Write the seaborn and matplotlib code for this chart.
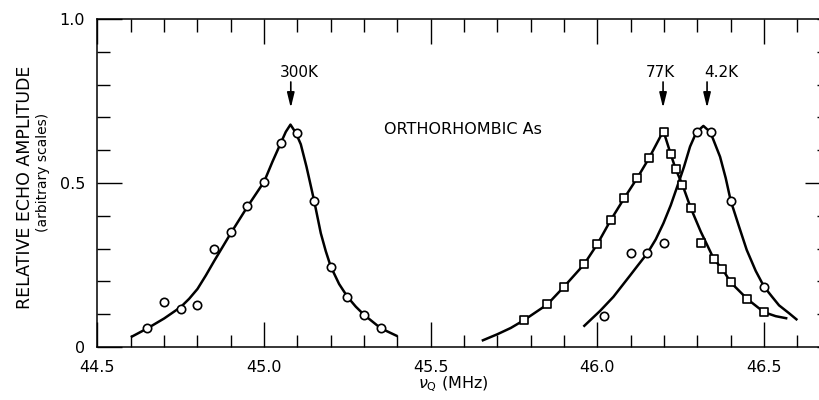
import matplotlib
matplotlib.use("Agg")
import matplotlib.pyplot as plt
import pandas as pd
import seaborn as sns
from matplotlib.ticker import MultipleLocator, FixedLocator, FixedFormatter

sns.set_theme(style="white")
plt.rcParams["font.family"] = ["DejaVu Sans"]

# ---- measured echo amplitudes (open circles: 300 K and 4.2 K, squares: 77 K)
freq_300k = [44.65, 44.70, 44.75, 44.80, 44.85, 44.90, 44.95, 45.00,
             45.05, 45.10, 45.15, 45.20, 45.25, 45.30, 45.35]
amp_300k = [0.057, 0.137, 0.115, 0.129, 0.298, 0.350, 0.430, 0.503,
            0.622, 0.652, 0.446, 0.245, 0.153, 0.098, 0.058]

freq_77k = [45.78, 45.85, 45.90, 45.96, 46.00, 46.04, 46.08, 46.12, 46.155, 46.20,
            46.22, 46.235, 46.255, 46.28, 46.31, 46.35, 46.375, 46.40, 46.45, 46.50]
amp_77k = [0.082, 0.130, 0.184, 0.252, 0.314, 0.387, 0.453, 0.516, 0.576, 0.655,
           0.588, 0.542, 0.495, 0.424, 0.317, 0.267, 0.238, 0.197, 0.146, 0.106]

freq_4k = [46.02, 46.10, 46.15, 46.20, 46.30, 46.34, 46.40, 46.50]
amp_4k = [0.094, 0.286, 0.286, 0.316, 0.655, 0.655, 0.446, 0.184]

# ---- hand-drawn line shapes through the data
fit_300k_x = [44.60, 44.65, 44.70, 44.75, 44.775, 44.80, 44.825, 44.85, 44.90, 44.95,
              45.00, 45.025, 45.05, 45.065, 45.079, 45.095, 45.11, 45.127, 45.137,
              45.15, 45.17, 45.185, 45.20, 45.225, 45.25, 45.275, 45.30, 45.35, 45.40]
fit_300k_y = [0.030, 0.057, 0.087, 0.122, 0.147, 0.177, 0.218, 0.262, 0.347, 0.428,
              0.504, 0.565, 0.622, 0.656, 0.678, 0.653, 0.618, 0.550, 0.505,
              0.446, 0.347, 0.292, 0.245, 0.192, 0.153, 0.123, 0.098, 0.057, 0.033]

fit_77k_x = [45.653, 45.70, 45.74, 45.78, 45.85, 45.90, 45.96, 46.00, 46.04, 46.08,
             46.12, 46.155, 46.198, 46.22, 46.235, 46.255, 46.28, 46.31, 46.35,
             46.375, 46.40, 46.45, 46.50, 46.535, 46.57]
fit_77k_y = [0.019, 0.039, 0.058, 0.082, 0.130, 0.184, 0.252, 0.314, 0.387, 0.453,
             0.516, 0.576, 0.659, 0.588, 0.542, 0.495, 0.424, 0.352, 0.267,
             0.238, 0.197, 0.146, 0.106, 0.094, 0.087]

fit_4k_x = [45.958, 46.008, 46.048, 46.098, 46.12, 46.15, 46.175, 46.198, 46.22,
            46.248, 46.26, 46.278, 46.297, 46.318, 46.339, 46.368, 46.385, 46.40,
            46.425, 46.448, 46.475, 46.50, 46.525, 46.545, 46.575, 46.60]
fit_4k_y = [0.062, 0.110, 0.153, 0.218, 0.247, 0.286, 0.328, 0.377, 0.432,
            0.514, 0.550, 0.611, 0.655, 0.674, 0.655, 0.580, 0.515, 0.446,
            0.367, 0.296, 0.232, 0.184, 0.152, 0.127, 0.103, 0.082]

# temperature markers: label, arrow position
peak_labels = ["300K", "77K", "4.2K"]
peak_arrow_x = [45.080, 46.197, 46.329]
peak_label_x = [45.106, 46.188, 46.371]

x_tick_values = [44.5, 45.0, 45.5, 46.0, 46.5]
x_tick_labels = ["44.5", "45.0", "45.5", "46.0", "46.5"]
y_tick_values = [0.0, 0.5, 1.0]
y_tick_labels = ["0", "0.5", "1.0"]

fig = plt.figure(figsize=(8.2, 4.0), dpi=100)
ax = fig.add_axes([0.1189, 0.1325, 0.8848, 0.82])

line_kw = dict(color="black", linewidth=1.8, sort=False, estimator=None, ax=ax)
for fx, fy in [(fit_300k_x, fit_300k_y), (fit_77k_x, fit_77k_y), (fit_4k_x, fit_4k_y)]:
    sns.lineplot(data=pd.DataFrame({"f": fx, "a": fy}), x="f", y="a", **line_kw)
for ln in ax.get_lines():
    ln.set_solid_joinstyle("round")
    ln.set_solid_capstyle("butt")

pts_circle = pd.DataFrame({"f": freq_300k + freq_4k, "a": amp_300k + amp_4k})
pts_square = pd.DataFrame({"f": freq_77k, "a": amp_77k})
sns.scatterplot(data=pts_circle, x="f", y="a", marker="o", s=36, facecolor="white",
                edgecolor="black", linewidth=1.2, zorder=4, ax=ax)
sns.scatterplot(data=pts_square, x="f", y="a", marker="s", s=36, facecolor="white",
                edgecolor="black", linewidth=1.2, zorder=4, ax=ax)

ax.set_xlim(44.5, 46.677)
ax.set_ylim(0, 1.0)

ax.xaxis.set_major_locator(FixedLocator(x_tick_values))
ax.xaxis.set_major_formatter(FixedFormatter(x_tick_labels))
ax.xaxis.set_minor_locator(MultipleLocator(0.1))
ax.yaxis.set_major_locator(FixedLocator(y_tick_values))
ax.yaxis.set_major_formatter(FixedFormatter(y_tick_labels))
ax.yaxis.set_minor_locator(MultipleLocator(0.1))

ax.tick_params(which="both", direction="in", top=True, bottom=True, left=True,
               right=False, color="black", width=1.0, labelsize=11.5,
               labelcolor="black")
ax.tick_params(which="major", length=18)
ax.tick_params(which="minor", length=9)
ax.tick_params(axis="x", pad=9)
ax.tick_params(axis="y", pad=9)

right = ax.secondary_yaxis("right")
right.yaxis.set_major_locator(FixedLocator([0.5]))
right.yaxis.set_minor_locator(MultipleLocator(0.1))
right.tick_params(which="both", direction="in", labelright=False, color="black", width=1.0)
right.tick_params(which="major", length=13)
right.tick_params(which="minor", length=4)

for sp in ax.spines.values():
    sp.set_color("black")
    sp.set_linewidth(1.1)
ax.spines["right"].set_visible(False)
right.spines["right"].set_color("black")

ax.set_xlabel("")
ax.set_ylabel("")

for label, xa, xl in zip(peak_labels, peak_arrow_x, peak_label_x):
    ax.annotate("", xy=(xa, 0.729), xytext=(xa, 0.808),
                arrowprops=dict(arrowstyle="-|>,head_length=0.9,head_width=0.22",
                                mutation_scale=10, color="black", lw=1.2,
                                shrinkA=0, shrinkB=0))
    ax.text(xl, 0.836, label, ha="center", va="center", fontsize=11, color="black")

ax.text(45.597, 0.662, "ORTHORHOMBIC As", ha="center", va="center",
        fontsize=11.5, color="black")

fig.text(25 / 820, 1 - 187 / 400, "RELATIVE ECHO AMPLITUDE", rotation=90,
         ha="center", va="center", fontsize=12.5, color="black")
fig.text(43 / 820, 1 - 172 / 400, "(arbitrary scales)", rotation=90,
         ha="center", va="center", fontsize=10, color="black")
fig.text(453 / 820, 1 - 384 / 400, r"$\nu_{\mathrm{Q}}$ (MHz)", ha="center",
         va="center", fontsize=11.5, color="black")

fig.savefig("out.png", dpi=100, facecolor="white")
